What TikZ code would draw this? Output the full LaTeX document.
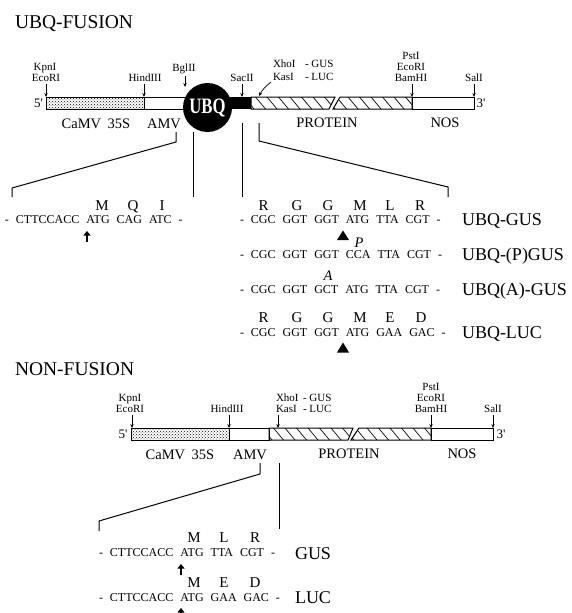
\documentclass[tikz,border=0pt]{standalone}
\usepackage{fontspec}
\setmainfont{Liberation Serif}
\usetikzlibrary{patterns,arrows.meta}
\newcommand{\fsz}[1]{\fontsize{#1}{#1}\selectfont}
\newcommand{\gp}{\hspace{7.0pt}}
\newcommand{\pr}{\textquotesingle}
\begin{document}
\begin{tikzpicture}[x=1pt,y=-1pt,
  every node/.style={inner sep=0pt,outer sep=0pt},
  ttl/.style={anchor=base west,font=\fsz{19.5}},
  enz/.style={anchor=base,font=\fsz{11}},
  enzw/.style={anchor=base west,font=\fsz{11}},
  reg/.style={anchor=base,font=\fsz{14.5}},
  prime/.style={font=\fsz{13}},
  seqrow/.style={anchor=base west,font=\fsz{12}},
  aa/.style={anchor=base,font=\fsz{15}},
  aai/.style={anchor=base,font=\fsz{14.5}\itshape},
  cname/.style={anchor=base west,font=\fsz{18}},
  cut/.style={-{Stealth[length=4pt,width=3.4pt]},line width=0.7pt},
  outl/.style={line width=1pt},
  hl/.style={line width=0.7pt},
  lead/.style={line width=1pt},
  bigup/.style={line width=1.9pt,-{Triangle[length=4.5pt,width=6.8pt]}},
  tri/.style={fill=black},
]
\useasboundingbox (0,0) rectangle (571,613);

% ================= UBQ-FUSION =================
\node[ttl] (t1) at (15,28.5) {UBQ-FUSION};

% construct bar
\fill[pattern=crosshatch dots] (46,97) rectangle (144,109);
\draw[outl] (46,97) rectangle (144,109);
\draw[outl] (144,97) rectangle (195,109);
\fill (222,97) rectangle (251,109);
\node[circle,fill=black,minimum size=49pt,text=white,font=\bfseries\fsz{22}] (ubq) at (207.5,107.5) {\scalebox{0.76}[1]{UBQ}};
\begin{scope}
  \clip (251,97) -- (335,97) -- (329,109) -- (251,109) -- cycle;
  \foreach \x in {244,255.5,...,340} \draw[hl] (\x,97) -- ({\x+10},109);
\end{scope}
\draw[outl] (251,97) -- (335,97) -- (329,109) -- (251,109) -- cycle;
\begin{scope}
  \clip (340,97) -- (412,97) -- (412,109) -- (333,109) -- cycle;
  \foreach \x in {325,336.5,...,415} \draw[hl] (\x,97) -- ({\x+10},109);
\end{scope}
\draw[outl] (340,97) -- (412,97) -- (412,109) -- (333,109) -- cycle;
\draw[outl] (412,97) rectangle (474,109);
\node[prime] (p5a) at (38.5,103) {5\pr};
\node[prime] (p3a) at (481,103) {3\pr};

% sites
\node[enz] (kpn1) at (45,70.5) {KpnI};
\node[enz] (eco1) at (46,81.5) {EcoRI};
\node[enz] (hin1) at (145,81.5) {HindIII};
\node[enz] (bgl1) at (184,71.5) {BglII};
\node[enz] (sac1) at (242,81.5) {SacII};
\node[enzw] (xho1) at (273,67.5) {XhoI};
\node[enzw] (xhg1) at (305,67.5) {- GUS};
\node[enzw] (kas1) at (273,80.5) {KasI};
\node[enzw] (kal1) at (305,80.5) {- LUC};
\node[enz] (pst1) at (411,59.5) {PstI};
\node[enz] (ecr1) at (411,70.5) {EcoRI};
\node[enz] (bam1) at (411,81.5) {BamHI};
\node[enz] (sal1) at (474,81.5) {SalI};
\coordinate (ca1) at (46,97);
\coordinate (ca2) at (144,97);
\coordinate (ca3) at (185,87);
\coordinate (ca4) at (242,97);
\coordinate (ca5) at (259,96);
\coordinate (ca6) at (412,97);
\coordinate (ca7) at (474,97);
\draw[cut,shorten <=2.5pt] (eco1.south -| ca1) -- (ca1);
\draw[cut,shorten <=2.5pt] (hin1.south -| ca2) -- (ca2);
\draw[cut,shorten <=2.5pt] (bgl1.south -| ca3) -- (ca3);
\draw[cut,shorten <=2.5pt] (sac1.south -| ca4) -- (ca4);
\draw[cut] (kas1.south west) ++(-2,1.5) to[bend right=12] (ca5);
\draw[cut,shorten <=2.5pt] (bam1.south -| ca6) -- (ca6);
\draw[cut,shorten <=2.5pt] (sal1.south -| ca7) -- (ca7);

% regions
\node[reg] (cam1) at (96,128) {CaMV\hspace{0.45em}35S};
\node[reg] (amv1) at (164,128) {AMV};
\node[reg] (pro1) at (327,127.5) {PROTEIN};
\node[reg] (nos1) at (445,127.5) {NOS};

% leads
\coordinate (la1) at (176,132); \coordinate (la2) at (176,142);
\coordinate (la3) at (12,188);  \coordinate (la4) at (12,197);
\coordinate (lb1) at (193,132); \coordinate (lb2) at (193,197);
\coordinate (lc1) at (242,123); \coordinate (lc2) at (242,197);
\coordinate (ld1) at (259,123); \coordinate (ld2) at (259,141);
\coordinate (ld3) at (448,187); \coordinate (ld4) at (448,197);
\draw[lead] (la1) -- (la2) -- (la3) -- (la4);
\draw[lead] (lb1) -- (lb2);
\draw[lead] (lc1) -- (lc2);
\draw[lead] (ld1) -- (ld2) -- (ld3) -- (ld4);

% left sequence
\node[seqrow] (sL1) at (5,223) {-\gp CTTCCACC\gp ATG\gp CAG\gp ATC\gp -};
\node[aa] (aL1) at (102,210.5) {M};
\node[aa] (aL2) at (133,210.5) {Q};
\node[aa] (aL3) at (162,210.5) {I};
\coordinate (ua1) at (87,242); \coordinate (ua2) at (87,231);
\draw[bigup] (ua1) -- (ua2);

% right sequences
\node[aa] (r11) at (263.5,210.5) {R};
\node[aa] (r12) at (297,210.5) {G};
\node[aa] (r13) at (328,210.5) {G};
\node[aa] (r14) at (360,210.5) {M};
\node[aa] (r15) at (390,210.5) {L};
\node[aa] (r16) at (420,210.5) {R};
\node[seqrow] (sR1) at (240,223) {-\gp CGC\gp GGT\gp GGT\gp ATG\gp TTA\gp CGT\gp -};
\fill[tri] (343,230.5) -- (349,240) -- (337,240) -- cycle;
\node[aai] (aP) at (359,247) {P};
\node[seqrow] (sR2) at (240,258) {-\gp CGC\gp GGT\gp GGT\gp CCA\gp TTA\gp CGT\gp -};
\node[aai] (aA) at (328,280.5) {A};
\node[seqrow] (sR3) at (240,293) {-\gp CGC\gp GGT\gp GCT\gp ATG\gp TTA\gp CGT\gp -};
\node[aa] (r41) at (263.5,322.5) {R};
\node[aa] (r42) at (297,322.5) {G};
\node[aa] (r43) at (328,322.5) {G};
\node[aa] (r44) at (360,322.5) {M};
\node[aa] (r45) at (390,322.5) {E};
\node[aa] (r46) at (421,322.5) {D};
\node[seqrow] (sR4) at (240,336) {-\gp CGC\gp GGT\gp GGT\gp ATG\gp GAA\gp GAC\gp -};
\fill[tri] (343,342.5) -- (349,352.5) -- (337,352.5) -- cycle;
\node[cname] (n1) at (462,225) {UBQ-GUS};
\node[cname] (n2) at (462,260) {UBQ-(P)GUS};
\node[cname] (n3) at (462,295) {UBQ(A)-GUS};
\node[cname] (n4) at (462,338) {UBQ-LUC};

% ================= NON-FUSION =================
\node[ttl] (t2) at (15,375) {NON-FUSION};

\fill[pattern=crosshatch dots] (131,428) rectangle (229,440);
\draw[outl] (131,428) rectangle (229,440);
\draw[outl] (229,428) rectangle (269,440);
\begin{scope}
  \clip (269,428) -- (353,428) -- (348,440) -- (269,440) -- cycle;
  \foreach \x in {262,273.5,...,360} \draw[hl] (\x,428) -- ({\x+10},440);
\end{scope}
\draw[outl] (269,428) -- (353,428) -- (348,440) -- (269,440) -- cycle;
\begin{scope}
  \clip (359,428) -- (431,428) -- (431,440) -- (351,440) -- cycle;
  \foreach \x in {344,355.5,...,435} \draw[hl] (\x,428) -- ({\x+10},440);
\end{scope}
\draw[outl] (359,428) -- (431,428) -- (431,440) -- (351,440) -- cycle;
\draw[outl] (431,428) rectangle (493,440);
\node[prime] (p5b) at (123,434) {5\pr};
\node[prime] (p3b) at (501,434) {3\pr};

\node[enz] (kpn2) at (130,401.5) {KpnI};
\node[enz] (eco2) at (130,412.5) {EcoRI};
\node[enz] (hin2) at (227,412.5) {HindIII};
\node[enzw] (xho2) at (276,401.5) {XhoI};
\node[enzw] (xhg2) at (303,401.5) {- GUS};
\node[enzw] (kas2) at (276,412.5) {KasI};
\node[enzw] (kal2) at (303,412.5) {- LUC};
\node[enz] (pst2) at (431,390.5) {PstI};
\node[enz] (ecr2) at (431,401.5) {EcoRI};
\node[enz] (bam2) at (431,412.5) {BamHI};
\node[enz] (sal2) at (493,412.5) {SalI};
\coordinate (cb1) at (132,428);
\coordinate (cb2) at (229,428);
\coordinate (cb3) at (278,428);
\coordinate (cb4) at (431,428);
\coordinate (cb5) at (493,428);
\draw[cut,shorten <=2.5pt] (eco2.south -| cb1) -- (cb1);
\draw[cut,shorten <=2.5pt] (hin2.south -| cb2) -- (cb2);
\draw[cut,shorten <=2.5pt] (kas2.south -| cb3) -- (cb3);
\draw[cut,shorten <=2.5pt] (bam2.south -| cb4) -- (cb4);
\draw[cut,shorten <=2.5pt] (sal2.south -| cb5) -- (cb5);

\node[reg] (cam2) at (180,459) {CaMV\hspace{0.45em}35S};
\node[reg] (amv2) at (250,459) {AMV};
\node[reg] (pro2) at (349,458.5) {PROTEIN};
\node[reg] (nos2) at (462,458.5) {NOS};

\coordinate (le1) at (260,463); \coordinate (le2) at (260,474);
\coordinate (le3) at (99,521);  \coordinate (le4) at (99,531);
\coordinate (lf1) at (279,463); \coordinate (lf2) at (279,529);
\draw[lead] (le1) -- (le2) -- (le3) -- (le4);
\draw[lead] (lf1) -- (lf2);

\node[aa] (b11) at (194,542) {M};
\node[aa] (b12) at (224,542) {L};
\node[aa] (b13) at (255,542) {R};
\node[seqrow] (sB1) at (99,556.8) {-\gp CTTCCACC\gp ATG\gp TTA\gp CGT\gp -};
\node[cname] (g1) at (295,559) {GUS};
\coordinate (ub1) at (181,575); \coordinate (ub2) at (181,564);
\draw[bigup] (ub1) -- (ub2);
\node[aa] (b21) at (194,587) {M};
\node[aa] (b22) at (224,587) {E};
\node[aa] (b23) at (255,587) {D};
\node[seqrow] (sB2) at (99,601.5) {-\gp CTTCCACC\gp ATG\gp GAA\gp GAC\gp -};
\node[cname] (g2) at (295,603.5) {LUC};
\coordinate (uc1) at (181,619); \coordinate (uc2) at (181,608);
\draw[bigup] (uc1) -- (uc2);
\end{tikzpicture}
\end{document}
